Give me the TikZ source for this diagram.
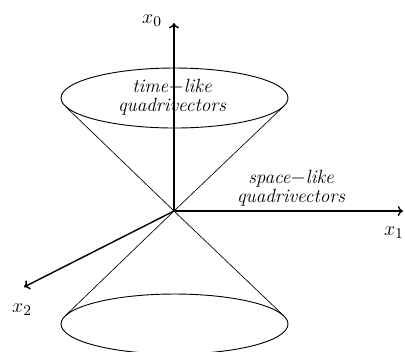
\documentclass[tikz,border=0pt]{standalone}
\usetikzlibrary{arrows.meta}
\tikzset{
  axis/.style={line width=0.85pt, -{To[length=3.2pt,width=6pt]}},
  coneline/.style={line width=0.4pt},
  rim/.style={line width=0.55pt},
  lbl/.style={align=center, font=\fontsize{11.5}{11.5}\selectfont\itshape, inner sep=0pt},
  axlbl/.style={font=\fontsize{13}{13}\selectfont, inner sep=0pt},
}
\begin{document}
\begin{tikzpicture}[x=0.6pt,y=-0.6pt]
\useasboundingbox (0,0) rectangle (405,351);
\clip (0,0) rectangle (405,351);
\coordinate (O) at (174,211);
\coordinate (X0) at (174,23);
\coordinate (X1) at (403,211);
\coordinate (X2) at (24,287);
\coordinate (TC) at (174.5,98);
\coordinate (BC) at (174.5,324);
\coordinate (TL) at (65,106);
\coordinate (TR) at (284,106);
\coordinate (BL) at (65,316);
\coordinate (BR) at (284,316);
% cones
\draw[rim] (TC) ellipse [x radius=113.5, y radius=30];
\draw[rim] (BC) ellipse [x radius=113.5, y radius=30];
\draw[coneline] (TL) -- (O) -- (BR);
\draw[coneline] (TR) -- (O) -- (BL);
% axes
\draw[axis] (O) -- (X0);
\draw[axis] (O) -- (X1);
\draw[axis] (O) -- (X2);
% labels
\node[axlbl] (L0) at (152,21) {$x_0$};
\node[axlbl, anchor=east] (L1) at (404,233) {$x_1$};
\node[axlbl] (L2) at (22,310) {$x_2$};
\node[lbl] (TLk) at (172,97) {time$-$like\\quadrivectors};
\node[lbl] (SLk) at (291,188) {space$-$like\\quadrivectors};
\end{tikzpicture}
\end{document}
